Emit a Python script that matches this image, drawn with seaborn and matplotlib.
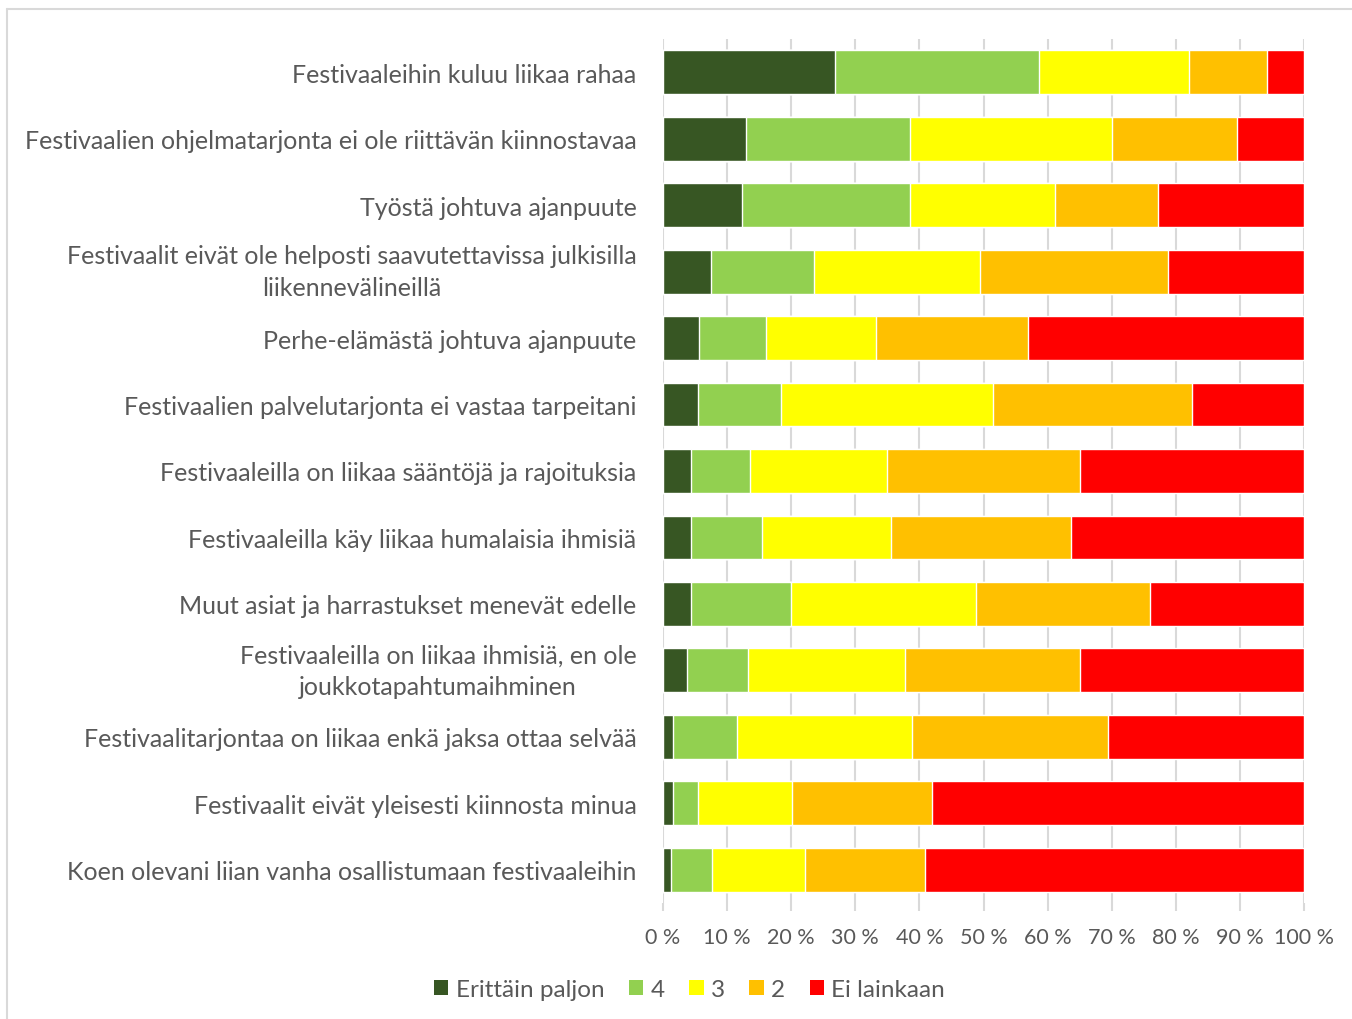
import numpy as np
import pandas as pd
import matplotlib.pyplot as plt
from matplotlib.lines import Line2D
from matplotlib.patches import Patch
import seaborn as sns

# statements, top to bottom
categories = [
    "Festivaaleihin kuluu liikaa rahaa",
    "Festivaalien ohjelmatarjonta ei ole riittävän kiinnostavaa",
    "Työstä johtuva ajanpuute",
    "Festivaalit eivät ole helposti saavutettavissa julkisilla\nliikennevälineillä",
    "Perhe-elämästä johtuva ajanpuute",
    "Festivaalien palvelutarjonta ei vastaa tarpeitani",
    "Festivaaleilla on liikaa sääntöjä ja rajoituksia",
    "Festivaaleilla käy liikaa humalaisia ihmisiä",
    "Muut asiat ja harrastukset menevät edelle",
    "Festivaaleilla on liikaa ihmisiä, en ole\njoukkotapahtumaihminen",
    "Festivaalitarjontaa on liikaa enkä jaksa ottaa selvää",
    "Festivaalit eivät yleisesti kiinnosta minua",
    "Koen olevani liian vanha osallistumaan festivaaleihin",
]

series_names = ["Erittäin paljon", "4", "3", "2", "Ei lainkaan"]

# shares in percent
erittain_paljon = [26.9, 12.9, 12.3, 7.5, 5.6, 5.5, 4.4, 4.3, 4.3, 3.8, 1.5, 1.5, 1.3]
neljä = [31.8, 25.7, 26.2, 16.1, 10.5, 12.9, 9.1, 11.1, 15.7, 9.5, 10.1, 3.9, 6.3]
kolme = [23.3, 31.4, 22.6, 25.8, 17.1, 33.1, 21.5, 20.1, 28.9, 24.5, 27.2, 14.7, 14.6]
kaksi = [12.2, 19.5, 16.1, 29.4, 23.8, 31.0, 30.0, 28.1, 27.0, 27.2, 30.7, 21.9, 18.6]
ei_lainkaan = [5.8, 10.5, 22.8, 21.2, 43.0, 17.5, 35.0, 36.4, 24.1, 35.0, 30.5, 58.0, 59.2]

colors = ["#375623", "#92D050", "#FFFF00", "#FFC000", "#FF0000"]

df = pd.DataFrame({
    "category": categories,
    "Erittäin paljon": erittain_paljon,
    "4": neljä,
    "3": kolme,
    "2": kaksi,
    "Ei lainkaan": ei_lainkaan,
})
# normalise to 100 % (Excel 100 % stacked)
vals = df[series_names].to_numpy()
vals = vals / vals.sum(axis=1, keepdims=True) * 100
cum = np.cumsum(vals, axis=1)

sns.set_style("white")
plt.rcParams["font.family"] = ["Lato", "DejaVu Sans"]
text_col = "#595959"

fig = plt.figure(figsize=(13.52, 10.2), dpi=100)
ax = fig.add_axes([663 / 1352, 1 - 904 / 1020, (1304 - 663) / 1352, (904 - 40) / 1020])

# draw the widest cumulative bar first so the shorter ones sit on top
for i in reversed(range(len(series_names))):
    sns.barplot(x=cum[:, i], y=df["category"], orient="h", color=colors[i],
                width=0.66, saturation=1, ax=ax, zorder=2)

ax.set_xlim(0, 100)
ax.set_ylim(len(categories) - 0.5, -0.5)
ax.set_xticks(np.arange(0, 101, 10))
ax.set_xticklabels([f"{t} %" for t in range(0, 101, 10)])
ax.xaxis.grid(True, color="#D9D9D9", linewidth=1.5, zorder=0)
ax.set_axisbelow(True)
for s in ax.spines.values():
    s.set_visible(False)
ax.set_xlabel("")
ax.set_ylabel("")
ax.tick_params(axis="x", colors="#D9D9D9", length=6, width=1.5, pad=11,
               labelcolor=text_col, labelsize=15.5, bottom=True, direction="out")
ax.tick_params(axis="y", length=0, pad=19, labelcolor=text_col, labelsize=18)
for lab in ax.get_yticklabels():
    lab.set_multialignment("center")
    lab.set_linespacing(1.45)
    if "\n" in lab.get_text():
        lab.set_verticalalignment("center")

handles = [Patch(facecolor=c, edgecolor="none") for c in colors]
fig.legend(handles, series_names, loc="center", bbox_to_anchor=(0.51, 0.029),
           ncol=5, frameon=False, fontsize=17.5, labelcolor=text_col,
           handlelength=0.6, handleheight=0.6, handletextpad=0.3, columnspacing=1.0)

# chart border (only top and left visible in the crop)
fig.add_artist(Line2D([7 / 1352, 7 / 1352], [0, 1 - 10 / 1020], color="#D9D9D9", lw=1.5))
fig.add_artist(Line2D([7 / 1352, 1], [1 - 10 / 1020, 1 - 10 / 1020], color="#D9D9D9", lw=1.5))

plt.savefig("out.png", dpi=100)
plt.close()
